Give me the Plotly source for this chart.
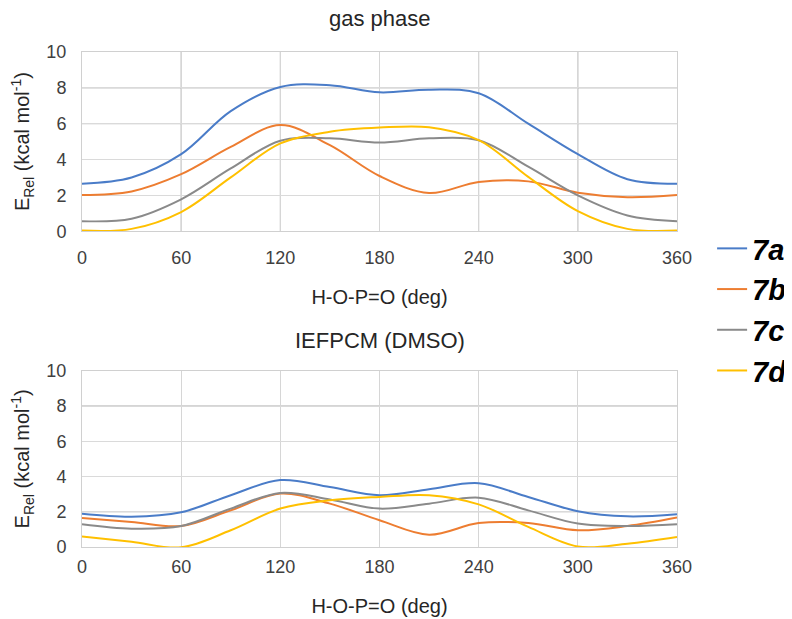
import plotly.graph_objects as go

angles = [0, 30, 60, 90, 120, 150, 180, 210, 240, 270, 300, 330, 360]

# gas phase
gas_7a = [2.65, 3.0, 4.3, 6.7, 8.05, 8.15, 7.75, 7.9, 7.7, 6.0, 4.3, 2.9, 2.65]
gas_7b = [2.02, 2.22, 3.18, 4.7, 5.92, 4.8, 3.08, 2.13, 2.75, 2.78, 2.15, 1.9, 2.02]
gas_7c = [0.56, 0.7, 1.78, 3.5, 5.05, 5.18, 4.95, 5.18, 5.08, 3.6, 2.0, 0.88, 0.56]
gas_7d = [0.04, 0.13, 1.07, 3.0, 4.9, 5.55, 5.78, 5.8, 5.08, 3.03, 1.12, 0.13, 0.04]

# IEFPCM (DMSO)
sol_7a = [1.89, 1.72, 1.97, 2.94, 3.8, 3.4, 2.94, 3.28, 3.62, 2.84, 2.03, 1.74, 1.86]
sol_7b = [1.65, 1.42, 1.19, 2.08, 3.03, 2.46, 1.52, 0.7, 1.36, 1.36, 0.95, 1.19, 1.67]
sol_7c = [1.29, 1.04, 1.19, 2.18, 3.07, 2.7, 2.18, 2.46, 2.8, 2.08, 1.33, 1.19, 1.29]
sol_7d = [0.6, 0.3, -0.02, 0.95, 2.18, 2.65, 2.84, 2.94, 2.42, 1.14, 0.03, 0.19, 0.57]

names = ["7a", "7b", "7c", "7d"]
colors = ["#4a7cc8", "#ED7D31", "#8a8a8a", "#FFC000"]
x_ticks = [0, 60, 120, 180, 240, 300, 360]
y_ticks = [0, 2, 4, 6, 8, 10]

# gridlines that appear darker in the reference image
dark_v_top = [60, 120, 180, 240, 300]
dark_h_top = [6, 8]
dark_v_bot = [180]
dark_h_bot = [2, 8]

fig = go.Figure()
for name, col, ys in zip(names, colors, [gas_7a, gas_7b, gas_7c, gas_7d]):
    fig.add_trace(go.Scatter(x=angles, y=ys, name=name, mode="lines",
                             line=dict(color=col, width=2, shape="spline", smoothing=1.0),
                             xaxis="x", yaxis="y", showlegend=True))
for name, col, ys in zip(names, colors, [sol_7a, sol_7b, sol_7c, sol_7d]):
    fig.add_trace(go.Scatter(x=angles, y=ys, name=name, mode="lines",
                             line=dict(color=col, width=2, shape="spline", smoothing=1.0),
                             xaxis="x2", yaxis="y2", showlegend=False))

font_family = "Liberation Sans, Arial, sans-serif"
tick_font = dict(family=font_family, size=18, color="#404040")
title_font = dict(family=font_family, size=20, color="#262626")

xcommon = dict(range=[0, 360], tickvals=x_ticks, ticktext=[str(v) for v in x_ticks],
               showgrid=True, gridcolor="#d6d6d6", gridwidth=1, zeroline=False,
               showline=True, mirror=True, linecolor="#d0d0d0", linewidth=1,
               ticks="outside", tickcolor="rgba(0,0,0,0)",
               tickfont=tick_font, fixedrange=True, automargin=False)
ycommon = dict(range=[0, 10], tickvals=y_ticks, ticktext=[str(v) for v in y_ticks],
               showgrid=True, gridcolor="#dadada", gridwidth=1, zeroline=False,
               showline=True, mirror=True, linecolor="#d0d0d0", linewidth=1,
               ticks="outside", ticklen=11, tickcolor="rgba(0,0,0,0)",
               tickfont=tick_font, fixedrange=True, automargin=False)

ytitle = "E<sub>Rel</sub> (kcal mol<sup>-1</sup>)"
xtitle = "H-O-P=O (deg)"

shapes = []
dark = dict(color="#a8a8a8", width=1)
for v in dark_v_top:
    shapes.append(dict(type="line", xref="x", yref="y", x0=v, x1=v, y0=0, y1=10,
                       line=dark, layer="below"))
for h in dark_h_top:
    shapes.append(dict(type="line", xref="x", yref="y", x0=0, x1=360, y0=h, y1=h,
                       line=dark, layer="below"))
for v in dark_v_bot:
    shapes.append(dict(type="line", xref="x2", yref="y2", x0=v, x1=v, y0=0, y1=10,
                       line=dark, layer="below"))
for h in dark_h_bot:
    shapes.append(dict(type="line", xref="x2", yref="y2", x0=0, x1=360, y0=h, y1=h,
                       line=dark, layer="below"))

fig.update_layout(
    width=792, height=619,
    margin=dict(l=74, r=123, t=44, b=80, autoexpand=False),
    paper_bgcolor="white", plot_bgcolor="white",
    font=dict(family=font_family, color="#262626"),
    xaxis=dict(**xcommon, ticklen=10, domain=[0, 1], anchor="y",
               title=dict(text=xtitle, font=title_font, standoff=23)),
    yaxis=dict(**ycommon, domain=[0.638, 1.0], anchor="x",
               title=dict(text=ytitle, font=title_font, standoff=14)),
    xaxis2=dict(**xcommon, ticklen=3, domain=[0, 1], anchor="y2",
                title=dict(text=xtitle, font=title_font, standoff=23)),
    yaxis2=dict(**ycommon, domain=[0.0, 0.356], anchor="x2",
                title=dict(text=ytitle, font=title_font, standoff=14)),
    legend=dict(x=1.059, y=0.6545, xanchor="left", yanchor="top",
                font=dict(family=font_family, size=29, color="black",
                          weight="bold", style="italic"),
                tracegroupgap=0, itemwidth=30, bgcolor="rgba(0,0,0,0)"),
    shapes=shapes,
    annotations=[
        dict(text="gas phase", xref="paper", yref="paper", x=0.5, y=1.067,
             xanchor="center", yanchor="middle", showarrow=False,
             font=dict(family=font_family, size=22, color="#262626")),
        dict(text="IEFPCM (DMSO)", xref="paper", yref="paper", x=0.5, y=0.418,
             xanchor="center", yanchor="middle", showarrow=False,
             font=dict(family=font_family, size=22, color="#262626")),
    ],
)

fig.write_html("out.html")
